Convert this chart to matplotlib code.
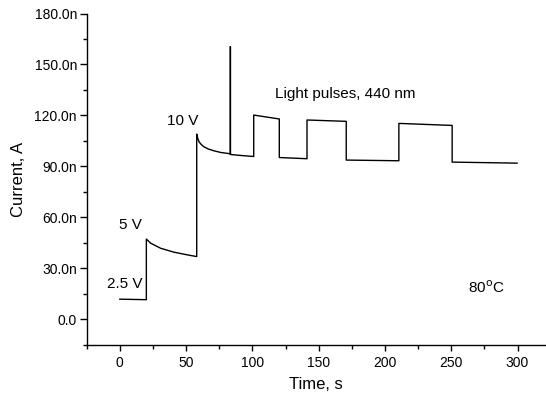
import matplotlib
matplotlib.use("Agg")
import matplotlib.pyplot as plt
from matplotlib.ticker import MultipleLocator, FuncFormatter

plt.rcParams['font.family'] = ['Liberation Sans', 'DejaVu Sans']

# Time (s) and current (nA); repeated times are step edges
time_s = [0, 20, 20, 23.2, 30.7, 40.7, 50.8, 58,
          58, 58.8, 59.8, 61.5, 63.5, 66.5, 70.8, 76, 83.4,
          83.4, 83.4, 90, 101, 101, 120.3, 120.3, 141.2, 141.2, 170.8, 170.8,
          210.5, 210.5, 250.7, 250.7, 299.7]
current_nA = [11.8, 11.5, 47.2, 44.8, 41.8, 39.5, 37.9, 36.9,
              109.0, 106.5, 104.4, 102.8, 101.5, 100.3, 99.2, 98.2, 97.4,
              160.5, 97.0, 96.5, 95.8, 120.2, 117.9, 95.2, 94.5,
              117.3, 116.5, 93.7, 93.3, 115.3, 114.1, 92.5, 91.9]

voltage_labels = ["2.5 V", "5 V", "10 V"]
pulse_label = "Light pulses, 440 nm"
temp_label = r"80$^{\rm o}$C"

fig = plt.figure(figsize=(5.46, 3.96), dpi=100)
ax = fig.add_axes([86.7/546, (396-344.7)/396, 1 - 86.7/546, (344.7-13.5)/396])

ax.plot(time_s, current_nA, color='black', lw=1.0)

ax.set_xlim(-25, 321.5)
ax.set_ylim(-15, 180)
for s in ['top', 'right']:
    ax.spines[s].set_visible(False)
ax.spines['left'].set_linewidth(1.0)
ax.spines['bottom'].set_linewidth(1.0)

ax.set_xticks([0, 50, 100, 150, 200, 250, 300])
ax.xaxis.set_minor_locator(MultipleLocator(25))
ax.yaxis.set_major_locator(MultipleLocator(30))
ax.yaxis.set_minor_locator(MultipleLocator(15))
ax.yaxis.set_major_formatter(FuncFormatter(lambda v, p: "0.0" if abs(v) < 1e-9 else f"{v:.1f}n"))
ax.tick_params(axis='y', which='major', direction='out', length=5, width=1, labelsize=10, pad=2)
ax.tick_params(axis='y', which='minor', direction='out', length=3, width=1)
ax.tick_params(axis='x', which='major', direction='out', length=4, width=1, labelsize=10, pad=4)
ax.tick_params(axis='x', which='minor', direction='out', length=3, width=1)

ax.set_xlabel("Time, s", fontsize=12, labelpad=5)
ax.set_ylabel("Current, A", fontsize=12, labelpad=6)

fs = 11
ax.text(-10, 20.8, voltage_labels[0], fontsize=fs, ha='left', va='center')
ax.text(-0.8, 55.2, voltage_labels[1], fontsize=fs, ha='left', va='center')
ax.text(35.7, 116.5, voltage_labels[2], fontsize=fs, ha='left', va='center')
ax.text(117.3, 132.8, pulse_label, fontsize=fs, ha='left', va='center')
ax.text(262.7, 18.5, temp_label, fontsize=fs, ha='left', va='center')

fig.savefig("out.png", dpi=100)
